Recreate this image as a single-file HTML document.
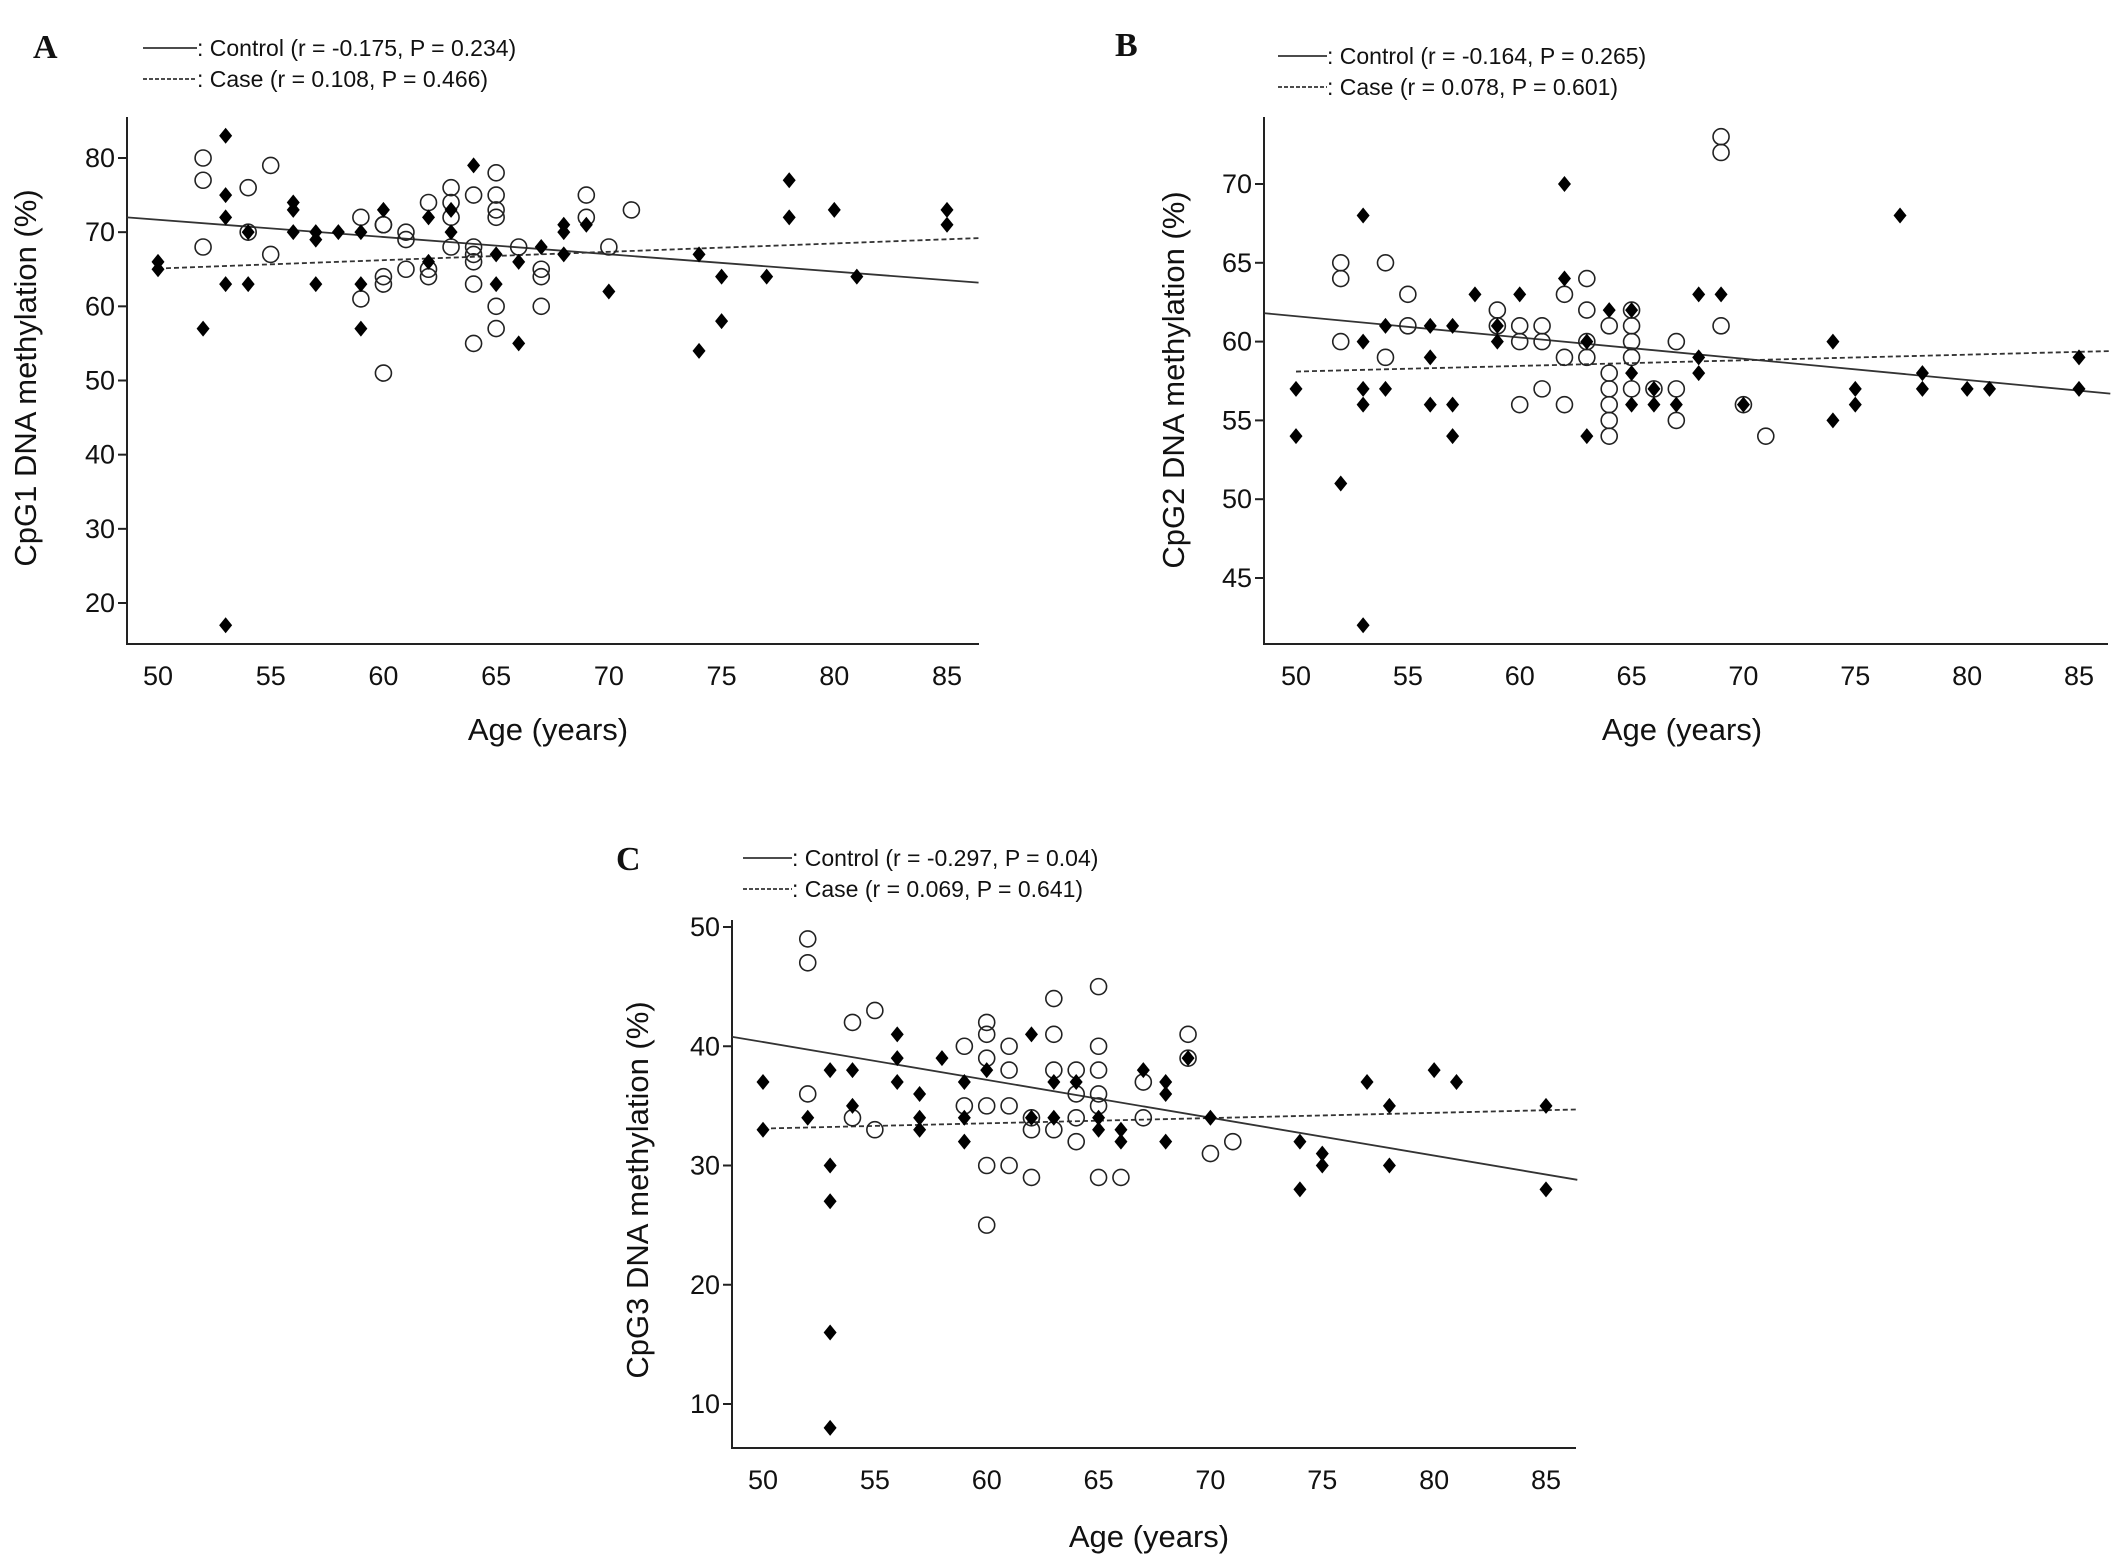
<!DOCTYPE html>
<html><head><meta charset="utf-8"><style>
html,body{margin:0;padding:0;background:#fff;}
svg{display:block;}
text{font-family:"Liberation Sans Narrow","Liberation Sans",Arial,sans-serif;fill:#111;}
.lbl{font-family:"Liberation Serif",serif;font-weight:bold;font-size:34px;}
</style></head><body>
<svg id="fig" width="2126" height="1560" viewBox="0 0 2126 1560" xmlns="http://www.w3.org/2000/svg"></svg>
<script>
// ---------- data ----------
const aCaseAge=[50,50,52,53,53,53,53,53,54,54,56,56,56,57,57,57,58,59,59,59,60,62,62,63,63,64,65,65,66,66,67,68,68,68,69,70,74,74,75,75,77,78,78,80,81,85,85];
const aCaseVal=[66,65,57,83,75,72,63,17,70,63,74,73,70,70,69,63,70,70,63,57,73,72,66,73,70,79,67,63,66,55,68,71,70,67,71,62,67,54,64,58,64,77,72,73,64,73,71];
const aCtrlAge=[52,52,52,54,54,55,55,59,59,60,60,60,60,60,61,61,61,62,62,62,63,63,63,63,64,64,64,64,64,64,65,65,65,65,65,65,66,67,67,67,69,69,70,71];
const aCtrlVal=[80,77,68,76,70,79,67,72,61,71,71,64,63,51,70,69,65,74,65,64,76,74,72,68,75,68,67,66,63,55,78,75,73,72,60,57,68,65,64,60,75,72,68,73];
const bCaseAge=[50,50,52,53,53,53,53,53,54,54,56,56,56,57,57,57,58,59,59,60,62,62,63,63,64,65,65,65,66,66,67,68,68,68,69,70,74,74,75,75,77,78,78,80,81,85,85];
const bCaseVal=[57,54,51,68,60,57,56,42,61,57,61,59,56,61,56,54,63,61,60,63,70,64,60,54,62,62,58,56,57,56,56,63,59,58,63,56,60,55,57,56,68,58,57,57,57,59,57];
const bCtrlAge=[52,52,52,54,54,55,55,59,59,60,60,60,61,61,61,62,62,62,63,63,63,63,64,64,64,64,64,64,65,65,65,65,65,66,67,67,67,69,69,69,70,71];
const bCtrlVal=[65,64,60,65,59,63,61,62,61,61,60,56,61,60,57,63,59,56,64,62,60,59,61,58,57,56,55,54,62,61,60,59,57,57,60,57,55,73,72,61,56,54];
const cCaseAge=[50,50,52,53,53,53,53,53,54,54,56,56,56,57,57,57,58,59,59,59,60,62,62,63,63,64,65,65,66,66,67,68,68,68,69,70,74,74,75,75,77,78,78,80,81,85,85];
const cCaseVal=[37,33,34,38,30,27,16,8,38,35,41,39,37,36,34,33,39,37,34,32,38,41,34,37,34,37,34,33,33,32,38,37,36,32,39,34,32,28,31,30,37,35,30,38,37,35,28];
const cCtrlAge=[52,52,52,54,54,55,55,59,59,60,60,60,60,60,60,61,61,61,61,62,62,62,63,63,63,63,64,64,64,64,65,65,65,65,65,65,66,67,67,69,69,70,71];
const cCtrlVal=[49,47,36,42,34,43,33,40,35,42,41,39,35,30,25,40,38,35,30,33,29,34,44,41,38,33,38,36,34,32,45,40,38,36,35,29,29,37,34,41,39,31,32];
const xTicks=[50,55,60,65,70,75,80,85];
const aYTicks=[20,30,40,50,60,70,80];
const bYTicks=[45,50,55,60,65,70];
const cYTicks=[10,20,30,40,50];
// regression line endpoints [x0,y0,x1,y1] in data units
const aCtrlFit=[48.6,72.0,86.4,63.2], aCaseFit=[50,65.1,86.4,69.2];
const bCtrlFit=[48.6,61.8,86.4,56.7], bCaseFit=[50,58.1,86.4,59.4];
const cCtrlFit=[48.6,40.8,86.4,28.8], cCaseFit=[50,33.1,86.4,34.7];

const NS="http://www.w3.org/2000/svg";
const svg=document.getElementById('fig');
function mk(tag,attrs,parent){const e=document.createElementNS(NS,tag);for(const k in attrs)e.setAttribute(k,attrs[k]);(parent||svg).appendChild(e);return e;}

function panel(p){
  const g=mk('g',{});
  
  
  const sx=v=>p.x50+(v-50)*(p.x85-p.x50)/35;
  const sy=v=>p.yT0+(v-p.t0)*(p.yT1-p.yT0)/(p.t1-p.t0);
  const ax=mk('path',{d:`M${p.left},${p.top} L${p.left},${p.bottom} L${p.right},${p.bottom}`,fill:'none',stroke:'#222','stroke-width':2},g);
  
  
  p.yticks.forEach(t=>{
    mk('line',{x1:p.left-9,x2:p.left,y1:sy(t),y2:sy(t),stroke:'#222','stroke-width':2},g);
    const tx=mk('text',{x:p.left-12,y:sy(t)+9,'text-anchor':'end','font-size':27},g);
    tx.textContent=t;
    
    
  });
  xTicks.forEach(t=>{
    const tx=mk('text',{x:sx(t),y:p.bottom+41,'text-anchor':'middle','font-size':27},g);
    tx.textContent=t;
    
    
  });
  const cl=mk('line',{x1:sx(p.ctrlFit[0]),y1:sy(p.ctrlFit[1]),x2:sx(p.ctrlFit[2]),y2:sy(p.ctrlFit[3]),stroke:'#333','stroke-width':1.8},g);
  
  
  const dl=mk('line',{x1:sx(p.caseFit[0]),y1:sy(p.caseFit[1]),x2:sx(p.caseFit[2]),y2:sy(p.caseFit[3]),stroke:'#333','stroke-width':1.8,'stroke-dasharray':'5,3'},g);
  
  
  p.ctrlAge.forEach((a,i)=>{
    const c=mk('ellipse',{cx:sx(a),cy:sy(p.ctrlVal[i]),rx:8,ry:8,fill:'none',stroke:'#222','stroke-width':1.6},g);
    
    
  });
  p.caseAge.forEach((a,i)=>{
    const x=sx(a),y=sy(p.caseVal[i]);
    const d=mk('path',{d:`M${x},${y-8} L${x+6.5},${y} L${x},${y+8} L${x-6.5},${y} Z`,fill:'#000'},g);
    
    
  });
  const yt=mk('text',{x:0,y:0,'text-anchor':'middle','font-size':31,transform:`translate(${p.ytx},${p.yty}) rotate(-90)`,style:'font-family:"Liberation Sans",sans-serif'},g);
  yt.textContent=p.ytitle;
  
  
  const xt=mk('text',{x:p.xtx,y:p.xty,'text-anchor':'middle','font-size':31,style:'font-family:"Liberation Sans",sans-serif'},g);
  xt.textContent='Age (years)';
  
  
  const pl=mk('text',{x:p.lx,y:p.ly,class:'lbl'},g);
  pl.textContent=p.id;
  
  
  mk('line',{x1:p.legX0,x2:p.legX1,y1:p.legY1,y2:p.legY1,stroke:'#333','stroke-width':1.8},g);
  mk('line',{x1:p.legX0,x2:p.legX1,y1:p.legY2,y2:p.legY2,stroke:'#333','stroke-width':1.8,'stroke-dasharray':'4,2'},g);
  const l1=mk('text',{x:p.legX1,y:p.legY1+8,'font-size':23},g);
  l1.textContent=p.leg1;
  
  
  const l2=mk('text',{x:p.legX1,y:p.legY2+8,'font-size':23},g);
  l2.textContent=p.leg2;
  
  
}

panel({id:'A',left:127,right:979,top:117,bottom:644,x50:158,x85:947,t0:80,yT0:158,t1:20,yT1:603,
  yticks:aYTicks,ctrlFit:aCtrlFit,caseFit:aCaseFit,ctrlAge:aCtrlAge,ctrlVal:aCtrlVal,caseAge:aCaseAge,caseVal:aCaseVal,
  ytitle:'CpG1 DNA methylation (%)',ytx:36,yty:378,xtx:548,xty:740,lx:33,ly:58,
  legX0:143,legX1:197,legY1:48,legY2:79,leg1:': Control (r = -0.175, P = 0.234)',leg2:': Case (r = 0.108, P = 0.466)'});
panel({id:'B',left:1264,right:2108,top:117,bottom:644,x50:1296,x85:2079,t0:70,yT0:184,t1:45,yT1:578,
  yticks:bYTicks,ctrlFit:bCtrlFit,caseFit:bCaseFit,ctrlAge:bCtrlAge,ctrlVal:bCtrlVal,caseAge:bCaseAge,caseVal:bCaseVal,
  ytitle:'CpG2 DNA methylation (%)',ytx:1184,yty:380,xtx:1682,xty:740,lx:1115,ly:56,
  legX0:1278,legX1:1327,legY1:56,legY2:87,leg1:': Control (r = -0.164, P = 0.265)',leg2:': Case (r = 0.078, P = 0.601)'});
panel({id:'C',left:732,right:1576,top:920,bottom:1448,x50:763,x85:1546,t0:50,yT0:927,t1:10,yT1:1404,
  yticks:cYTicks,ctrlFit:cCtrlFit,caseFit:cCaseFit,ctrlAge:cCtrlAge,ctrlVal:cCtrlVal,caseAge:cCaseAge,caseVal:cCaseVal,
  ytitle:'CpG3 DNA methylation (%)',ytx:648,yty:1190,xtx:1149,xty:1547,lx:616,ly:870,
  legX0:743,legX1:792,legY1:858,legY2:889,leg1:': Control (r = -0.297, P = 0.04)',leg2:': Case (r = 0.069, P = 0.641)'});
</script>
</body></html>
